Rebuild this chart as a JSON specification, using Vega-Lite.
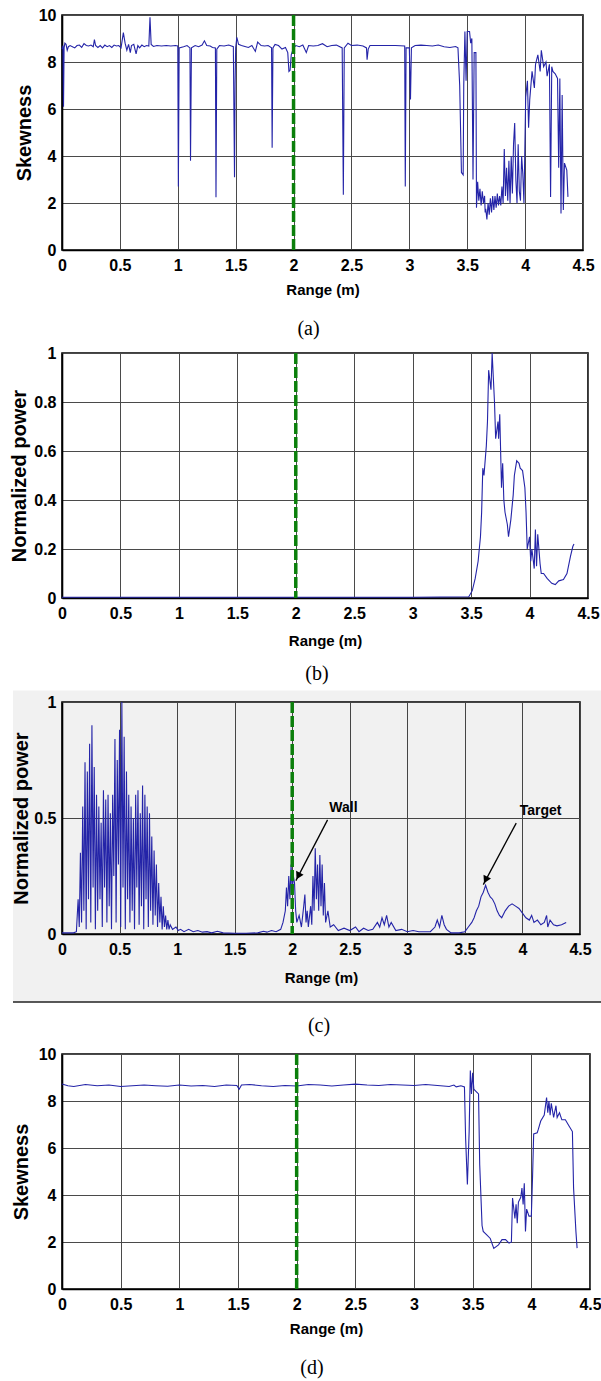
{
  "$schema": "https://vega.github.io/schema/vega-lite/v6.json",
  "background": "white",
  "padding": {"left": 8, "top": 6, "right": 0, "bottom": 4},
  "align": "none",
  "bounds": "full",
  "spacing": 8,
  "datasets": {
    "a": [
      {"r":0,"v":8.55},{"r":0.008,"v":8.7},{"r":0.013,"v":6.1},{"r":0.018,"v":8.6},{"r":0.025,"v":8.8},{"r":0.035,"v":8.75},{"r":0.045,"v":8.5},{"r":0.055,"v":8.65},{"r":0.07,"v":8.7},{"r":0.09,"v":8.65},{"r":0.11,"v":8.6},{"r":0.13,"v":8.7},{"r":0.15,"v":8.72},{"r":0.17,"v":8.62},{"r":0.19,"v":8.78},{"r":0.21,"v":8.7},{"r":0.23,"v":8.68},{"r":0.25,"v":8.72},{"r":0.27,"v":8.65},{"r":0.28,"v":8.95},{"r":0.29,"v":8.7},{"r":0.31,"v":8.62},{"r":0.33,"v":8.7},{"r":0.35,"v":8.6},{"r":0.37,"v":8.72},{"r":0.39,"v":8.65},{"r":0.41,"v":8.7},{"r":0.43,"v":8.62},{"r":0.45,"v":8.72},{"r":0.47,"v":8.68},{"r":0.49,"v":8.7},{"r":0.51,"v":8.6},{"r":0.53,"v":9.25},{"r":0.545,"v":8.8},{"r":0.56,"v":8.5},{"r":0.575,"v":8.75},{"r":0.59,"v":8.4},{"r":0.6,"v":8.7},{"r":0.62,"v":8.75},{"r":0.64,"v":8.35},{"r":0.655,"v":8.7},{"r":0.67,"v":8.6},{"r":0.69,"v":8.72},{"r":0.71,"v":8.65},{"r":0.73,"v":8.7},{"r":0.75,"v":8.68},{"r":0.76,"v":9.9},{"r":0.77,"v":8.75},{"r":0.79,"v":8.66},{"r":0.82,"v":8.7},{"r":0.86,"v":8.68},{"r":0.9,"v":8.7},{"r":0.94,"v":8.68},{"r":0.98,"v":8.7},{"r":1.0,"v":8.68},{"r":1.005,"v":2.7},{"r":1.012,"v":8.6},{"r":1.05,"v":8.65},{"r":1.08,"v":8.7},{"r":1.105,"v":8.6},{"r":1.11,"v":3.8},{"r":1.118,"v":8.6},{"r":1.15,"v":8.7},{"r":1.18,"v":8.65},{"r":1.21,"v":8.72},{"r":1.23,"v":8.9},{"r":1.25,"v":8.7},{"r":1.28,"v":8.68},{"r":1.3,"v":8.62},{"r":1.325,"v":8.6},{"r":1.33,"v":2.25},{"r":1.337,"v":8.55},{"r":1.36,"v":8.7},{"r":1.4,"v":8.68},{"r":1.44,"v":8.72},{"r":1.48,"v":8.65},{"r":1.49,"v":3.1},{"r":1.495,"v":7.1},{"r":1.5,"v":8.6},{"r":1.51,"v":9.05},{"r":1.525,"v":8.75},{"r":1.55,"v":8.7},{"r":1.58,"v":8.66},{"r":1.61,"v":8.62},{"r":1.64,"v":8.7},{"r":1.67,"v":8.45},{"r":1.69,"v":8.85},{"r":1.72,"v":8.7},{"r":1.75,"v":8.68},{"r":1.78,"v":8.7},{"r":1.81,"v":8.6},{"r":1.815,"v":4.35},{"r":1.822,"v":8.6},{"r":1.84,"v":8.75},{"r":1.87,"v":8.7},{"r":1.9,"v":8.55},{"r":1.93,"v":8.62},{"r":1.95,"v":8.4},{"r":1.96,"v":7.6},{"r":1.97,"v":7.65},{"r":1.98,"v":8.3},{"r":2.0,"v":8.6},{"r":2.02,"v":8.7},{"r":2.05,"v":8.65},{"r":2.08,"v":8.72},{"r":2.11,"v":8.4},{"r":2.13,"v":8.7},{"r":2.17,"v":8.68},{"r":2.21,"v":8.7},{"r":2.25,"v":8.78},{"r":2.29,"v":8.65},{"r":2.33,"v":8.7},{"r":2.37,"v":8.72},{"r":2.42,"v":8.6},{"r":2.43,"v":2.35},{"r":2.438,"v":8.6},{"r":2.47,"v":8.8},{"r":2.5,"v":8.7},{"r":2.55,"v":8.72},{"r":2.6,"v":8.68},{"r":2.63,"v":8.6},{"r":2.635,"v":8.1},{"r":2.645,"v":8.55},{"r":2.66,"v":8.7},{"r":2.72,"v":8.7},{"r":2.8,"v":8.7},{"r":2.88,"v":8.7},{"r":2.96,"v":8.68},{"r":2.965,"v":2.7},{"r":2.972,"v":8.6},{"r":3.0,"v":8.6},{"r":3.01,"v":6.4},{"r":3.018,"v":8.6},{"r":3.05,"v":8.7},{"r":3.1,"v":8.72},{"r":3.15,"v":8.7},{"r":3.2,"v":8.68},{"r":3.25,"v":8.72},{"r":3.3,"v":8.65},{"r":3.35,"v":8.62},{"r":3.4,"v":8.66},{"r":3.42,"v":8.6},{"r":3.435,"v":7.0},{"r":3.45,"v":3.3},{"r":3.465,"v":3.2},{"r":3.47,"v":7.0},{"r":3.48,"v":9.3},{"r":3.49,"v":7.2},{"r":3.5,"v":9.3},{"r":3.52,"v":9.3},{"r":3.53,"v":8.8},{"r":3.54,"v":9.0},{"r":3.55,"v":3.0},{"r":3.56,"v":8.4},{"r":3.575,"v":8.4},{"r":3.58,"v":1.8},{"r":3.59,"v":2.9},{"r":3.6,"v":2.1},{"r":3.61,"v":2.6},{"r":3.62,"v":1.9},{"r":3.63,"v":2.5},{"r":3.64,"v":2.0},{"r":3.65,"v":2.3},{"r":3.655,"v":1.6},{"r":3.66,"v":1.75},{"r":3.67,"v":1.3},{"r":3.68,"v":2.0},{"r":3.69,"v":1.5},{"r":3.7,"v":2.2},{"r":3.71,"v":1.6},{"r":3.72,"v":2.3},{"r":3.73,"v":1.7},{"r":3.74,"v":2.3},{"r":3.75,"v":1.8},{"r":3.76,"v":2.4},{"r":3.77,"v":1.9},{"r":3.78,"v":2.3},{"r":3.79,"v":1.9},{"r":3.8,"v":2.7},{"r":3.81,"v":2.0},{"r":3.82,"v":4.3},{"r":3.83,"v":2.3},{"r":3.84,"v":3.5},{"r":3.85,"v":2.1},{"r":3.86,"v":3.8},{"r":3.87,"v":2.0},{"r":3.88,"v":4.0},{"r":3.89,"v":2.4},{"r":3.9,"v":4.5},{"r":3.91,"v":5.4},{"r":3.92,"v":3.0},{"r":3.93,"v":2.0},{"r":3.94,"v":4.5},{"r":3.95,"v":2.5},{"r":3.96,"v":2.1},{"r":3.97,"v":4.0},{"r":3.98,"v":3.25},{"r":3.99,"v":2.0},{"r":4.005,"v":6.5},{"r":4.02,"v":7.2},{"r":4.03,"v":5.2},{"r":4.04,"v":6.4},{"r":4.06,"v":7.6},{"r":4.08,"v":6.9},{"r":4.09,"v":7.9},{"r":4.11,"v":8.3},{"r":4.13,"v":7.6},{"r":4.14,"v":8.5},{"r":4.16,"v":7.8},{"r":4.18,"v":8.0},{"r":4.19,"v":7.4},{"r":4.21,"v":7.9},{"r":4.22,"v":2.26},{"r":4.23,"v":7.8},{"r":4.24,"v":7.6},{"r":4.26,"v":7.5},{"r":4.28,"v":7.3},{"r":4.29,"v":3.5},{"r":4.3,"v":7.3},{"r":4.31,"v":1.55},{"r":4.32,"v":6.6},{"r":4.33,"v":1.7},{"r":4.34,"v":3.7},{"r":4.36,"v":3.4},{"r":4.37,"v":2.26}
    ],
    "b": [
      {"r":0,"v":0.003},{"r":1,"v":0.003},{"r":2,"v":0.003},{"r":3,"v":0.003},{"r":3.48,"v":0.005},{"r":3.51,"v":0.03},{"r":3.535,"v":0.08},{"r":3.56,"v":0.15},{"r":3.58,"v":0.25},{"r":3.59,"v":0.35},{"r":3.6,"v":0.53},{"r":3.61,"v":0.5},{"r":3.63,"v":0.62},{"r":3.64,"v":0.72},{"r":3.65,"v":0.93},{"r":3.67,"v":0.85},{"r":3.68,"v":1.0},{"r":3.69,"v":0.9},{"r":3.7,"v":0.8},{"r":3.71,"v":0.65},{"r":3.73,"v":0.72},{"r":3.735,"v":0.65},{"r":3.745,"v":0.75},{"r":3.76,"v":0.45},{"r":3.77,"v":0.55},{"r":3.78,"v":0.4},{"r":3.79,"v":0.35},{"r":3.81,"v":0.3},{"r":3.82,"v":0.25},{"r":3.84,"v":0.32},{"r":3.86,"v":0.42},{"r":3.87,"v":0.5},{"r":3.89,"v":0.56},{"r":3.91,"v":0.55},{"r":3.92,"v":0.53},{"r":3.94,"v":0.52},{"r":3.96,"v":0.45},{"r":3.97,"v":0.35},{"r":3.98,"v":0.2},{"r":4.0,"v":0.25},{"r":4.01,"v":0.15},{"r":4.02,"v":0.2},{"r":4.04,"v":0.12},{"r":4.05,"v":0.28},{"r":4.06,"v":0.13},{"r":4.07,"v":0.26},{"r":4.09,"v":0.14},{"r":4.1,"v":0.1},{"r":4.12,"v":0.1},{"r":4.15,"v":0.08},{"r":4.19,"v":0.06},{"r":4.22,"v":0.055},{"r":4.25,"v":0.07},{"r":4.29,"v":0.075},{"r":4.32,"v":0.1},{"r":4.35,"v":0.17},{"r":4.37,"v":0.21},{"r":4.38,"v":0.22}
    ],
    "c": [
      {"r":0,"v":0.005},{"r":0.05,"v":0.005},{"r":0.1,"v":0.005},{"r":0.125,"v":0.01},
      {"r":0.14,"v":0.15},{"r":0.15,"v":0.03},{"r":0.16,"v":0.35},{"r":0.17,"v":0.05},{"r":0.18,"v":0.55},{"r":0.19,"v":0.1},{"r":0.2,"v":0.74},{"r":0.21,"v":0.02},{"r":0.22,"v":0.7},{"r":0.23,"v":0.15},{"r":0.24,"v":0.82},{"r":0.25,"v":0.05},{"r":0.26,"v":0.9},{"r":0.27,"v":0.2},{"r":0.28,"v":0.72},{"r":0.29,"v":0.02},{"r":0.3,"v":0.6},{"r":0.31,"v":0.1},{"r":0.32,"v":0.55},{"r":0.33,"v":0.15},{"r":0.34,"v":0.48},{"r":0.35,"v":0.03},{"r":0.36,"v":0.62},{"r":0.37,"v":0.2},{"r":0.38,"v":0.58},{"r":0.39,"v":0.05},{"r":0.4,"v":0.6},{"r":0.41,"v":0.12},{"r":0.42,"v":0.52},{"r":0.43,"v":0.02},{"r":0.44,"v":0.6},{"r":0.45,"v":0.25},{"r":0.46,"v":0.84},{"r":0.47,"v":0.05},{"r":0.48,"v":0.75},{"r":0.49,"v":0.3},{"r":0.5,"v":0.88},{"r":0.51,"v":0.03},{"r":0.52,"v":1.0},{"r":0.53,"v":0.2},{"r":0.54,"v":0.85},{"r":0.55,"v":0.02},{"r":0.56,"v":0.7},{"r":0.57,"v":0.15},{"r":0.58,"v":0.6},{"r":0.59,"v":0.05},{"r":0.6,"v":0.55},{"r":0.61,"v":0.1},{"r":0.62,"v":0.5},{"r":0.63,"v":0.02},{"r":0.64,"v":0.6},{"r":0.65,"v":0.2},{"r":0.66,"v":0.62},{"r":0.67,"v":0.04},{"r":0.68,"v":0.52},{"r":0.69,"v":0.12},{"r":0.7,"v":0.64},{"r":0.71,"v":0.02},{"r":0.72,"v":0.6},{"r":0.73,"v":0.15},{"r":0.74,"v":0.55},{"r":0.75,"v":0.03},{"r":0.76,"v":0.52},{"r":0.77,"v":0.1},{"r":0.78,"v":0.42},{"r":0.79,"v":0.04},{"r":0.8,"v":0.36},{"r":0.81,"v":0.08},{"r":0.82,"v":0.3},{"r":0.83,"v":0.03},{"r":0.84,"v":0.22},{"r":0.85,"v":0.05},{"r":0.86,"v":0.16},{"r":0.87,"v":0.02},{"r":0.88,"v":0.12},{"r":0.89,"v":0.03},{"r":0.9,"v":0.08},{"r":0.91,"v":0.02},{"r":0.92,"v":0.06},{"r":0.93,"v":0.02},{"r":0.94,"v":0.04},{"r":0.96,"v":0.02},
      {"r":0.99,"v":0.03},{"r":1.01,"v":0.015},{"r":1.03,"v":0.02},{"r":1.06,"v":0.01},{"r":1.1,"v":0.02},{"r":1.14,"v":0.01},{"r":1.18,"v":0.015},{"r":1.22,"v":0.008},{"r":1.26,"v":0.01},{"r":1.3,"v":0.005},{"r":1.35,"v":0.012},{"r":1.4,"v":0.005},{"r":1.5,"v":0.003},{"r":1.6,"v":0.003},{"r":1.7,"v":0.005},{"r":1.75,"v":0.012},{"r":1.78,"v":0.008},{"r":1.82,"v":0.015},{"r":1.86,"v":0.01},{"r":1.9,"v":0.02},{"r":1.92,"v":0.05},{"r":1.94,"v":0.1},{"r":1.95,"v":0.2},{"r":1.96,"v":0.12},{"r":1.97,"v":0.25},{"r":1.98,"v":0.15},{"r":1.99,"v":0.3},{"r":2.0,"v":0.18},{"r":2.01,"v":0.25},{"r":2.02,"v":0.22},{"r":2.03,"v":0.1},{"r":2.04,"v":0.05},{"r":2.06,"v":0.08},{"r":2.08,"v":0.03},{"r":2.1,"v":0.12},{"r":2.11,"v":0.17},{"r":2.12,"v":0.05},{"r":2.13,"v":0.1},{"r":2.14,"v":0.03},{"r":2.16,"v":0.12},{"r":2.17,"v":0.04},{"r":2.18,"v":0.25},{"r":2.19,"v":0.1},{"r":2.2,"v":0.37},{"r":2.21,"v":0.15},{"r":2.22,"v":0.3},{"r":2.23,"v":0.1},{"r":2.24,"v":0.34},{"r":2.25,"v":0.12},{"r":2.26,"v":0.3},{"r":2.27,"v":0.08},{"r":2.28,"v":0.22},{"r":2.29,"v":0.05},{"r":2.31,"v":0.1},{"r":2.33,"v":0.03},{"r":2.36,"v":0.04},{"r":2.4,"v":0.015},{"r":2.45,"v":0.025},{"r":2.5,"v":0.015},{"r":2.55,"v":0.03},{"r":2.58,"v":0.01},{"r":2.62,"v":0.025},{"r":2.66,"v":0.015},{"r":2.7,"v":0.02},{"r":2.74,"v":0.05},{"r":2.76,"v":0.03},{"r":2.78,"v":0.07},{"r":2.8,"v":0.04},{"r":2.82,"v":0.08},{"r":2.84,"v":0.03},{"r":2.86,"v":0.05},{"r":2.9,"v":0.015},{"r":2.95,"v":0.02},{"r":3.0,"v":0.01},{"r":3.05,"v":0.015},{"r":3.1,"v":0.01},{"r":3.15,"v":0.01},{"r":3.2,"v":0.01},{"r":3.24,"v":0.03},{"r":3.26,"v":0.06},{"r":3.28,"v":0.03},{"r":3.3,"v":0.08},{"r":3.32,"v":0.04},{"r":3.34,"v":0.02},{"r":3.38,"v":0.005},{"r":3.45,"v":0.005},{"r":3.5,"v":0.01},{"r":3.53,"v":0.03},{"r":3.56,"v":0.05},{"r":3.58,"v":0.07},{"r":3.6,"v":0.1},{"r":3.62,"v":0.12},{"r":3.64,"v":0.16},{"r":3.66,"v":0.18},{"r":3.68,"v":0.21},{"r":3.7,"v":0.18},{"r":3.72,"v":0.16},{"r":3.74,"v":0.15},{"r":3.76,"v":0.13},{"r":3.78,"v":0.1},{"r":3.8,"v":0.08},{"r":3.82,"v":0.07},{"r":3.85,"v":0.1},{"r":3.88,"v":0.12},{"r":3.91,"v":0.13},{"r":3.94,"v":0.12},{"r":3.97,"v":0.11},{"r":4.0,"v":0.09},{"r":4.03,"v":0.07},{"r":4.06,"v":0.06},{"r":4.08,"v":0.08},{"r":4.1,"v":0.05},{"r":4.13,"v":0.06},{"r":4.16,"v":0.04},{"r":4.19,"v":0.05},{"r":4.21,"v":0.08},{"r":4.22,"v":0.03},{"r":4.24,"v":0.06},{"r":4.27,"v":0.04},{"r":4.3,"v":0.035},{"r":4.34,"v":0.04},{"r":4.38,"v":0.05}
    ],
    "d": [
      {"r":0,"v":8.72},{"r":0.05,"v":8.65},{"r":0.1,"v":8.62},{"r":0.2,"v":8.7},{"r":0.3,"v":8.65},{"r":0.4,"v":8.68},{"r":0.5,"v":8.62},{"r":0.6,"v":8.65},{"r":0.7,"v":8.68},{"r":0.8,"v":8.65},{"r":0.9,"v":8.63},{"r":1.0,"v":8.68},{"r":1.1,"v":8.64},{"r":1.2,"v":8.66},{"r":1.3,"v":8.62},{"r":1.4,"v":8.68},{"r":1.49,"v":8.66},{"r":1.51,"v":8.5},{"r":1.53,"v":8.68},{"r":1.6,"v":8.7},{"r":1.7,"v":8.65},{"r":1.8,"v":8.62},{"r":1.9,"v":8.66},{"r":2.0,"v":8.64},{"r":2.1,"v":8.7},{"r":2.2,"v":8.68},{"r":2.3,"v":8.64},{"r":2.4,"v":8.68},{"r":2.5,"v":8.72},{"r":2.6,"v":8.68},{"r":2.7,"v":8.66},{"r":2.8,"v":8.7},{"r":2.9,"v":8.68},{"r":3.0,"v":8.66},{"r":3.1,"v":8.7},{"r":3.2,"v":8.66},{"r":3.3,"v":8.62},{"r":3.34,"v":8.68},{"r":3.36,"v":8.6},{"r":3.4,"v":8.65},{"r":3.43,"v":8.6},{"r":3.44,"v":6.4},{"r":3.455,"v":4.45},{"r":3.47,"v":6.7},{"r":3.48,"v":9.3},{"r":3.49,"v":8.3},{"r":3.5,"v":9.2},{"r":3.51,"v":8.5},{"r":3.53,"v":8.4},{"r":3.55,"v":8.3},{"r":3.56,"v":5.3},{"r":3.58,"v":2.7},{"r":3.59,"v":2.45},{"r":3.62,"v":2.3},{"r":3.65,"v":2.15},{"r":3.68,"v":1.73},{"r":3.72,"v":1.88},{"r":3.75,"v":2.1},{"r":3.78,"v":2.1},{"r":3.81,"v":1.95},{"r":3.83,"v":2.0},{"r":3.84,"v":3.87},{"r":3.86,"v":3.0},{"r":3.87,"v":3.6},{"r":3.88,"v":2.8},{"r":3.89,"v":3.7},{"r":3.91,"v":3.9},{"r":3.92,"v":4.3},{"r":3.93,"v":3.6},{"r":3.94,"v":4.5},{"r":3.95,"v":2.45},{"r":3.96,"v":3.4},{"r":3.98,"v":3.1},{"r":4.0,"v":3.1},{"r":4.01,"v":4.7},{"r":4.02,"v":6.6},{"r":4.05,"v":6.65},{"r":4.06,"v":6.8},{"r":4.08,"v":7.15},{"r":4.11,"v":7.4},{"r":4.13,"v":8.15},{"r":4.14,"v":7.5},{"r":4.15,"v":8.0},{"r":4.16,"v":7.4},{"r":4.17,"v":7.9},{"r":4.19,"v":7.3},{"r":4.21,"v":7.8},{"r":4.22,"v":7.3},{"r":4.24,"v":7.5},{"r":4.26,"v":7.2},{"r":4.29,"v":7.2},{"r":4.32,"v":6.95},{"r":4.35,"v":6.7},{"r":4.36,"v":4.3},{"r":4.38,"v":2.45},{"r":4.39,"v":1.74}
    ],
    "wall": [{"r": 2}],
    "one": [{"k": 1}],
    "notes": [
      {"label":"Wall","tx":2.445,"ty":0.542,"x1":2.307,"y1":0.492,"x2":2.032,"y2":0.23,"hx":2.052,"hy":0.25},
      {"label":"Target","tx":4.157,"ty":0.532,"x1":3.946,"y1":0.478,"x2":3.66,"y2":0.213,"hx":3.68,"hy":0.233}
    ]
  },
  "vconcat": [
    {
      "align": "none",
      "bounds": "full",
      "spacing": 4,
      "vconcat": [
        {
          "width": 521,
          "height": 235,
          "title": {"text": "(a)", "orient": "bottom", "offset": 22, "dx": -14},
          "layer": [
            {
              "data": {"name": "a"},
              "mark": {"type": "line", "color": "#2424a8", "strokeWidth": 1.1},
              "encoding": {
                "x": {"field": "r", "type": "quantitative", "scale": {"domain": [0, 4.5], "nice": false}, "axis": {"title": "Range (m)", "values": [0,0.5,1,1.5,2,2.5,3,3.5,4,4.5], "format": ".1~f"}},
                "y": {"field": "v", "type": "quantitative", "scale": {"domain": [0, 10], "nice": false}, "axis": {"title": "Skewness", "values": [0,2,4,6,8,10], "format": ".1~f", "titlePadding": 4}}
              }
            },
            {
              "data": {"name": "wall"},
              "mark": {"type": "rule", "color": "#0b7f0b", "strokeWidth": 3.5, "strokeDash": [11, 3]},
              "encoding": {"x": {"field": "r", "type": "quantitative"}}
            }
          ]
        },
        {
          "width": 526,
          "height": 245,
          "title": {"text": "(b)", "orient": "bottom", "offset": 16, "dx": -8},
          "layer": [
            {
              "data": {"name": "b"},
              "mark": {"type": "line", "color": "#2424a8", "strokeWidth": 1.1},
              "encoding": {
                "x": {"field": "r", "type": "quantitative", "scale": {"domain": [0, 4.5], "nice": false}, "axis": {"title": "Range (m)", "values": [0,0.5,1,1.5,2,2.5,3,3.5,4,4.5], "format": ".1~f", "titlePadding": 12}},
                "y": {"field": "v", "type": "quantitative", "scale": {"domain": [0, 1], "nice": false}, "axis": {"title": "Normalized power", "values": [0,0.2,0.4,0.6,0.8,1], "format": ".1~f", "titlePadding": 4}}
              }
            },
            {
              "data": {"name": "wall"},
              "mark": {"type": "rule", "color": "#0b7f0b", "strokeWidth": 3.5, "strokeDash": [11, 3]},
              "encoding": {"x": {"field": "r", "type": "quantitative"}}
            }
          ]
        },
        {
          "width": 518,
          "height": 232,
          "title": {"text": "(c)", "orient": "bottom", "offset": 13, "dx": -2},
          "layer": [
            {
              "data": {"name": "one"},
              "mark": {"type": "rect", "color": "#000000", "opacity": 0.055},
              "encoding": {
                "x": {"datum": -0.426, "type": "quantitative"},
                "x2": {"datum": 4.7},
                "y": {"datum": -0.293, "type": "quantitative"},
                "y2": {"datum": 1.05}
              }
            },
            {
              "data": {"name": "one"},
              "mark": {"type": "rule", "color": "#222222", "strokeWidth": 1.5},
              "encoding": {
                "x": {"datum": -0.426, "type": "quantitative"},
                "x2": {"datum": 4.7},
                "y": {"datum": -0.293, "type": "quantitative"}
              }
            },
            {
              "data": {"name": "c"},
              "mark": {"type": "line", "color": "#2424a8", "strokeWidth": 1.1},
              "encoding": {
                "x": {"field": "r", "type": "quantitative", "scale": {"domain": [0, 4.5], "nice": false}, "axis": {"title": "Range (m)", "values": [0,0.5,1,1.5,2,2.5,3,3.5,4,4.5], "format": ".1~f", "titlePadding": 13}},
                "y": {"field": "v", "type": "quantitative", "scale": {"domain": [0, 1], "nice": false}, "axis": {"title": "Normalized power", "values": [0,0.5,1], "format": ".1~f", "titlePadding": 2}}
              }
            },
            {
              "data": {"name": "wall"},
              "mark": {"type": "rule", "color": "#0b7f0b", "strokeWidth": 3.5, "strokeDash": [11, 3]},
              "encoding": {"x": {"field": "r", "type": "quantitative"}}
            },
            {
              "data": {"name": "notes"},
              "mark": {"type": "rule", "color": "#000000", "strokeWidth": 1.3},
              "encoding": {
                "x": {"field": "x1", "type": "quantitative"},
                "y": {"field": "y1", "type": "quantitative"},
                "x2": {"field": "x2"},
                "y2": {"field": "y2"}
              }
            },
            {
              "data": {"name": "notes"},
              "mark": {"type": "point", "shape": "triangle-up", "filled": true, "color": "#000000", "size": 70, "angle": 207, "opacity": 1},
              "encoding": {
                "x": {"field": "hx", "type": "quantitative"},
                "y": {"field": "hy", "type": "quantitative"}
              }
            },
            {
              "data": {"name": "notes"},
              "mark": {"type": "text", "font": "Liberation Sans, Arial, sans-serif", "fontWeight": "bold", "fontSize": 14, "color": "#000000"},
              "encoding": {
                "x": {"field": "tx", "type": "quantitative"},
                "y": {"field": "ty", "type": "quantitative"},
                "text": {"field": "label"}
              }
            }
          ]
        }
      ]
    },
    {
      "width": 528,
      "height": 235,
      "title": {"text": "(d)", "orient": "bottom", "offset": 22, "dx": -14},
      "layer": [
        {
          "data": {"name": "d"},
          "mark": {"type": "line", "color": "#2424a8", "strokeWidth": 1.1},
          "encoding": {
            "x": {"field": "r", "type": "quantitative", "scale": {"domain": [0, 4.5], "nice": false}, "axis": {"title": "Range (m)", "values": [0,0.5,1,1.5,2,2.5,3,3.5,4,4.5], "format": ".1~f"}},
            "y": {"field": "v", "type": "quantitative", "scale": {"domain": [0, 10], "nice": false}, "axis": {"title": "Skewness", "values": [0,2,4,6,8,10], "format": ".1~f", "titlePadding": 7}}
          }
        },
        {
          "data": {"name": "wall"},
          "mark": {"type": "rule", "color": "#0b7f0b", "strokeWidth": 3.5, "strokeDash": [11, 3]},
          "encoding": {"x": {"field": "r", "type": "quantitative"}}
        }
      ]
    }
  ],
  "config": {
    "font": "Liberation Sans, Arial, sans-serif",
    "view": {"stroke": "#000000", "strokeWidth": 1.6},
    "axis": {
      "grid": true,
      "gridColor": "#4a4a4a",
      "gridWidth": 1,
      "gridOpacity": 1,
      "domainColor": "#000000",
      "domainWidth": 1.6,
      "ticks": false,
      "labelFont": "Liberation Sans, Arial, sans-serif",
      "labelFontSize": 16,
      "labelFontWeight": "bold",
      "labelColor": "#000000",
      "labelFlush": false,
      "labelOverlap": false,
      "titleColor": "#000000",
      "titleFontWeight": "bold"
    },
    "axisX": {"labelPadding": 7, "titleFont": "Liberation Sans, Arial, sans-serif", "titleFontSize": 15, "titlePadding": 9},
    "axisY": {"labelPadding": 6, "titleFont": "Liberation Sans, Arial, sans-serif", "titleFontSize": 20},
    "title": {"font": "Liberation Serif, Times New Roman, serif", "fontSize": 20, "fontWeight": "normal", "color": "#000000", "anchor": "middle", "frame": "group"}
  }
}
